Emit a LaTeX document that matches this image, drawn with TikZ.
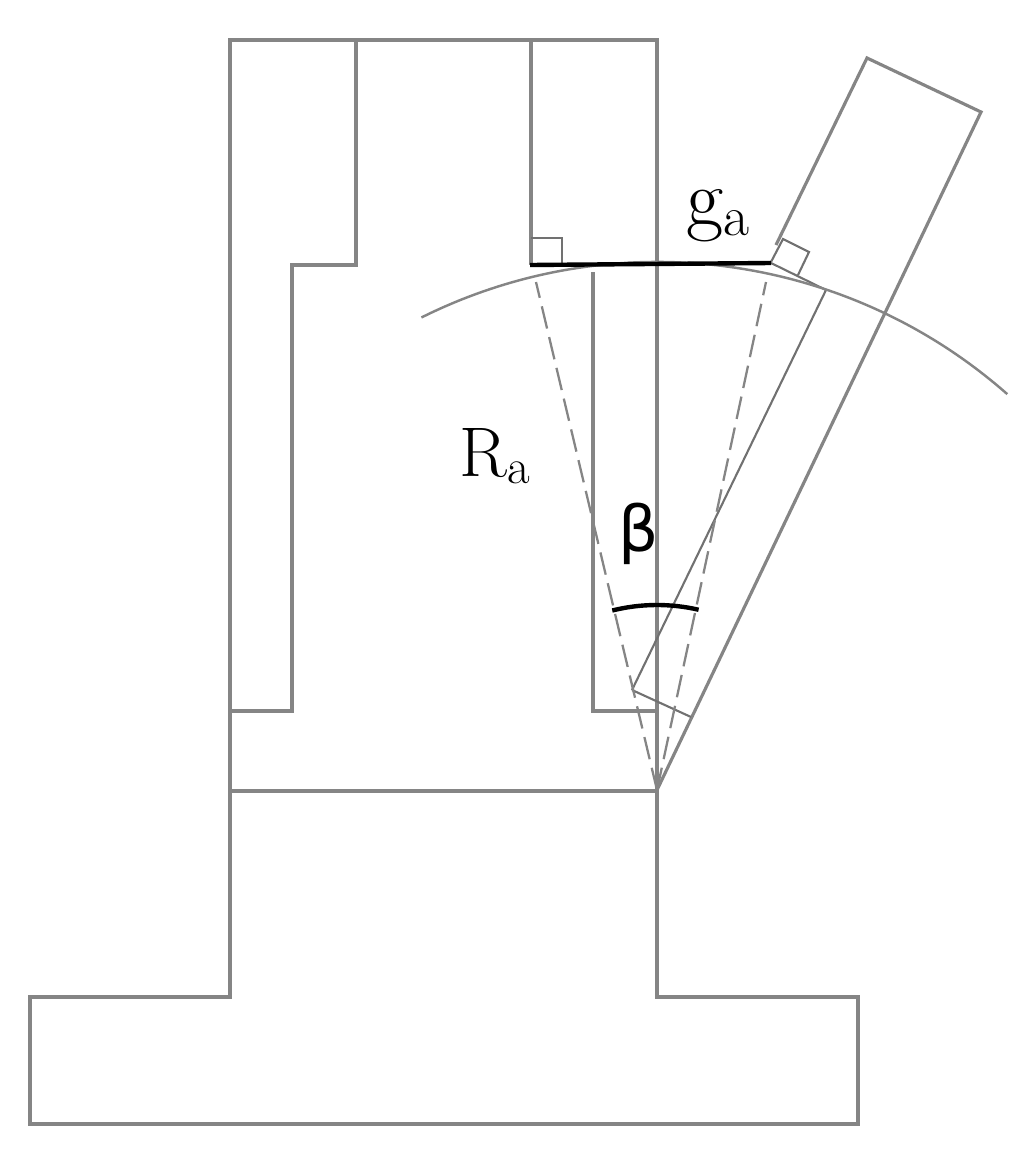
\documentclass[tikz,border=0pt]{standalone}
\usepackage{fontspec}
\usepackage{tikz}
\usetikzlibrary{calc}
\newfontfamily\betafont{DejaVu Sans}
\definecolor{linegray}{HTML}{858585}
\begin{document}
\begin{tikzpicture}[
    x=0.02cm, y=0.02cm,
    part/.style={draw=linegray, line width=1.8pt, line join=miter},
    thin part/.style={draw=linegray!85!black, line width=1.2pt},
    dash part/.style={draw=linegray, line width=1.3pt, dash pattern=on 13pt off 5pt},
    heavy/.style={draw=black, line width=2.5pt},
    label/.style={inner sep=0pt, font=\fontsize{40}{40}\selectfont}
]
    \useasboundingbox (0, 0) rectangle (1030, -1153);
    % base and column
    \draw[part] (230, -40) -- (657, -40) -- (657, -997) -- (858, -997) -- (858, -1124) -- (30, -1124) -- (30, -997) -- (230, -997) -- cycle;
    \draw[part] (230, -791) -- (657, -791);
    \draw[part] (356, -40) -- (356, -265) -- (292, -265) -- (292, -711) -- (230, -711);
    \draw[part] (531, -40) -- (531, -265);
    \draw[part] (593, -272) -- (593, -711) -- (657, -711);
    % tilted part
    \draw[part] (657, -790) -- (981, -112) -- (867, -58) -- (776, -245);
    \draw[thin part] (632, -690) -- (826, -290);
    \draw[thin part] (632, -690) -- (691, -717);
    \draw[thin part] (771, -263) -- (826, -290);
    % curve and radii
    \coordinate (center) at (657, -790);
    \draw[part, line width=1.4pt] ($(center)+(116.5:528)$) arc[start angle=116.5, end angle=48.6, radius=529];
    \draw[dash part] (center) -- (536, -282);
    \draw[dash part] (center) -- (766, -282);
    % right angle marks
    \draw[thin part] (531, -238) -- (562, -238) -- (562, -264);
    \draw[thin part] (771, -262) -- (783, -239) -- (809, -252) -- (798, -275);
    % chord and angle
    \draw[heavy] (530, -265) -- (771, -263);
    \draw[heavy] ($(center)+(104:185)$) arc[start angle=104, end angle=77, radius=185];
    % labels
    \node[label, font=\fontsize{46}{46}\selectfont] (ga) at (718, -216) {g\textsubscript{a}};
    \node[label] (ra) at (495, -456) {R\textsubscript{a}};
    \node[label, font=\fontsize{36}{36}\selectfont\betafont] (beta) at (639, -534) {β};
\end{tikzpicture}
\end{document}
